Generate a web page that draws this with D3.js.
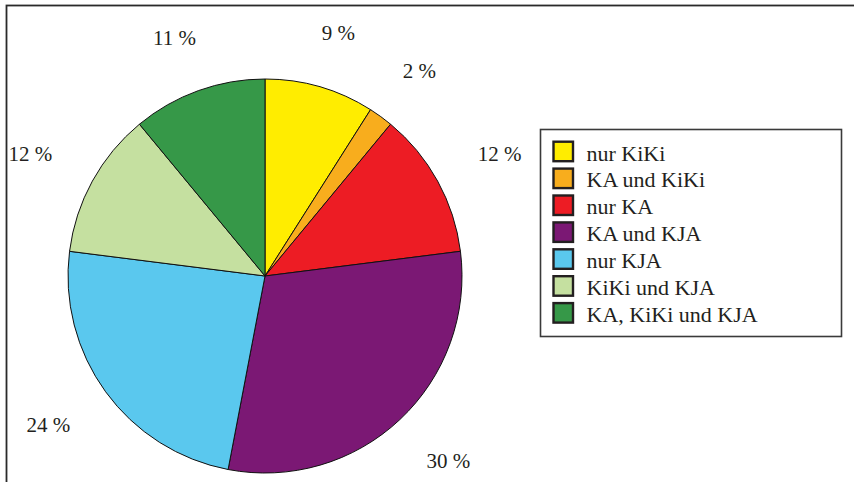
<!DOCTYPE html>
<html>
<head>
<meta charset="utf-8">
<script src="https://cdn.jsdelivr.net/npm/d3@7"></script>
<style>
  html, body { margin: 0; padding: 0; background: #fff; }
  svg { display: block; }
  text { font-family: "Liberation Serif", "DejaVu Serif", serif; fill: #231f20; }
</style>
</head>
<body>
<svg id="chart" width="854" height="482"></svg>
<script>
const categories = ["nur KiKi", "KA und KiKi", "nur KA", "KA und KJA", "nur KJA", "KiKi und KJA", "KA, KiKi und KJA"];
const values = [9, 2, 12, 30, 24, 12, 11];
const colors = ["#ffed00", "#f8ad1d", "#ed1c24", "#7b1874", "#5ac8ee", "#c5e0a0", "#369848"];
const labels = ["9 %", "2 %", "12 %", "30 %", "24 %", "12 %", "11 %"];

const svg = d3.select("#chart");
const W = 854, H = 482;

// outer frame (only top & left visible)
svg.append("rect")
  .attr("x", 6.5).attr("y", 5.5)
  .attr("width", 1000).attr("height", 1000)
  .attr("fill", "none").attr("stroke", "#2a2a2a").attr("stroke-width", 1.8);

const cx = 265, cy = 276, R = 197;
const pie = d3.pie().value(d => d).sort(null);
const arcs = pie(values);
const arc = d3.arc().innerRadius(0).outerRadius(R);

const g = svg.append("g").attr("transform", `translate(${cx},${cy})`);
g.selectAll("path.slice")
  .data(arcs)
  .join("path")
  .attr("class", "slice")
  .attr("d", arc)
  .attr("fill", (d, i) => colors[i])
  .attr("stroke", "#111")
  .attr("stroke-width", 1)
  .attr("stroke-linejoin", "round");

// percentage labels
const r0 = 246;
const lbl = g.selectAll("text.lbl")
  .data(arcs)
  .join("text")
  .attr("class", "lbl")
  .attr("font-size", 21)
  .attr("text-anchor", "middle")
  .text((d, i) => labels[i]);
lbl.each(function(d) {
  const bb = this.getBBox();
  const hw = bb.width / 2, hh = 7.5;
  const a = (d.startAngle + d.endAngle) / 2;
  const s = Math.sin(a), c = Math.cos(a);
  const x = (r0 + hw) * s;
  const y = -(r0 + hh) * c;
  d3.select(this).attr("x", x).attr("y", y + 7.3);
});

// legend
const lx = 540, ly = 129, lw = 301, lh = 207;
svg.append("rect")
  .attr("x", lx + 0.5).attr("y", ly + 0.5)
  .attr("width", lw).attr("height", lh)
  .attr("fill", "#fff").attr("stroke", "#3a3a3a").attr("stroke-width", 1.6);

const rowY = d3.scaleBand().domain(d3.range(categories.length)).range([140.5, 140.5 + 26.9 * 7]).paddingInner(0);
const leg = svg.append("g").selectAll("g")
  .data(categories)
  .join("g")
  .attr("transform", (d, i) => `translate(0,${rowY(i)})`);
leg.append("rect")
  .attr("x", 553.5).attr("y", 1.2)
  .attr("width", 19.5).attr("height", 19.5)
  .attr("fill", (d, i) => colors[i])
  .attr("stroke", "#231f20").attr("stroke-width", 2.4);
leg.append("text")
  .attr("x", 586.5).attr("y", 20)
  .attr("font-size", 22)
  .text(d => d);
</script>
</body>
</html>
